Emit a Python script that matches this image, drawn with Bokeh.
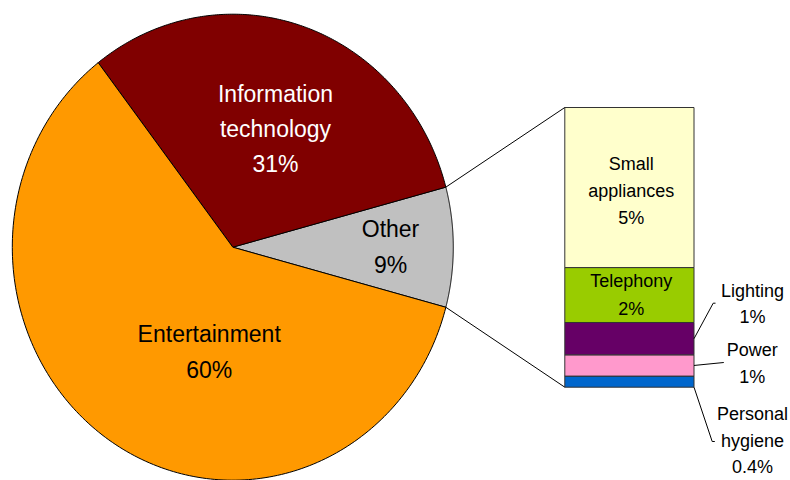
import numpy as np
from bokeh.plotting import figure
from bokeh.models import Range1d
from bokeh.core.properties import value
from bokeh.embed import file_html
from bokeh.resources import INLINE

# ---------------- data ----------------
bar_categories = ["Personal hygiene", "Power", "Lighting", "Telephony", "Small appliances"]
bar_values = [0.33, 0.63, 0.96, 1.63, 4.75]
bar_labels = [["Personal", "hygiene", "0.4%"], ["Power", "1%"], ["Lighting", "1%"],
              ["Telephony", "2%"], ["Small", "appliances", "5%"]]
bar_colors = ["#0066CC", "#FF99CC", "#660066", "#99CC00", "#FFFFCC"]

pie_categories = ["Other", "Information technology", "Entertainment"]
pie_values = [sum(bar_values), 31.3, 60.4]
pie_labels = [["Other", "9%"], ["Information", "technology", "31%"], ["Entertainment", "60%"]]
pie_colors = ["#C0C0C0", "#800000", "#FF9900"]
pie_text_colors = ["black", "white", "black"]

# ---------------- layout ----------------
W, H = 790, 480
FONT = value("Liberation Sans")
cx, cy, rx, ry = 232.3, 233.3, 220.5, 233.0
bar_left, bar_right = 564.3, 693.5
bar_base_px, bar_height_px = 93.3, 279.7
PIE_FS, BAR_FS = 23, 18

p = figure(width=W, height=H, output_backend="svg", toolbar_location=None,
           x_range=Range1d(0, W), y_range=Range1d(0, H), min_border=0,
           background_fill_color="white", border_fill_color="white")
p.xaxis.visible = False
p.yaxis.visible = False
p.grid.visible = False
p.outline_line_color = None

# ---- pie (elliptical, from the data) ----
total = sum(pie_values)
fracs = np.array(pie_values) / total
start = -np.pi * fracs[0]
xs, ys, slice_angles = [], [], []
a0 = start
for f in fracs:
    a1 = a0 + 2 * np.pi * f
    t = np.linspace(a0, a1, 200)
    xs.append([cx] + list(cx + rx * np.cos(t)) + [cx])
    ys.append([cy] + list(cy + ry * np.sin(t)) + [cy])
    slice_angles.append((a0, a1))
    a0 = a1
p.patches(xs, ys, fill_color=pie_colors, line_color="black", line_width=1)

# ---- stacked bar on its own scale ----
bar_total = sum(bar_values)
k = bar_height_px / bar_total
p.extra_y_ranges = {"bar": Range1d(-bar_base_px / k, (H - bar_base_px) / k)}
tops = np.cumsum(bar_values)
bottoms = tops - np.array(bar_values)
p.quad(left=bar_left, right=bar_right, bottom=bottoms, top=tops,
       fill_color=bar_colors, line_color="#333333", line_width=1, y_range_name="bar")

def to_main(v):
    return bar_base_px + v * k

# connector lines from "Other" slice to the bar
oa0, oa1 = slice_angles[0]
p.segment(x0=[cx + rx * np.cos(oa1), cx + rx * np.cos(oa0)],
          y0=[cy + ry * np.sin(oa1), cy + ry * np.sin(oa0)],
          x1=[bar_left, bar_left], y1=[to_main(bar_total), to_main(0)],
          line_color="black", line_width=1)

# leader lines for the small segments
anchor_frac = [0.0, 0.5, 0.5]
leader_ends = [[(711.7, 39.0), (714.3, 39.0)], [(723.3, 118.0)], [(712.7, 177.3), (715.0, 177.3)]]
lx, ly = [], []
for i in range(3):
    y0 = to_main(bottoms[i] + anchor_frac[i] * bar_values[i])
    lx.append([bar_right] + [q[0] for q in leader_ends[i]])
    ly.append([y0] + [q[1] for q in leader_ends[i]])
p.multi_line(lx, ly, line_color="black", line_width=1)

# ---- labels ----
pie_label_pos = [(390.0, 242.7, 36.0), (275.0, 378.3, 35.0), (208.7, 138.3, 36.0)]
tx, ty, tt, tc = [], [], [], []
for lines, (x0, y0, step), col in zip(pie_labels, pie_label_pos, pie_text_colors):
    for j, s in enumerate(lines):
        tx.append(x0); ty.append(y0 - j * step + 0.37 * PIE_FS); tt.append(s); tc.append(col)
p.text(x=tx, y=ty, text=tt, text_color=tc, text_font=FONT, text_font_size=f"{PIE_FS}px",
       text_align="center", text_baseline="alphabetic")

bar_label_pos = [(752.0, 60.0, 26.8), (751.7, 124.3, 27.0), (752.0, 183.3, 26.6),
                 (630.7, 192.7, 27.7), (630.7, 310.0, 27.0)]
bx, by, bt = [], [], []
for lines, (x0, y0, step) in zip(bar_labels, bar_label_pos):
    for j, s in enumerate(lines):
        bx.append(x0); by.append(y0 - j * step + 0.37 * BAR_FS); bt.append(s)
p.text(x=bx, y=by, text=bt, text_color="black", text_font=FONT, text_font_size=f"{BAR_FS}px",
       text_align="center", text_baseline="alphabetic")

open("out.html", "w").write(file_html(p, INLINE))
